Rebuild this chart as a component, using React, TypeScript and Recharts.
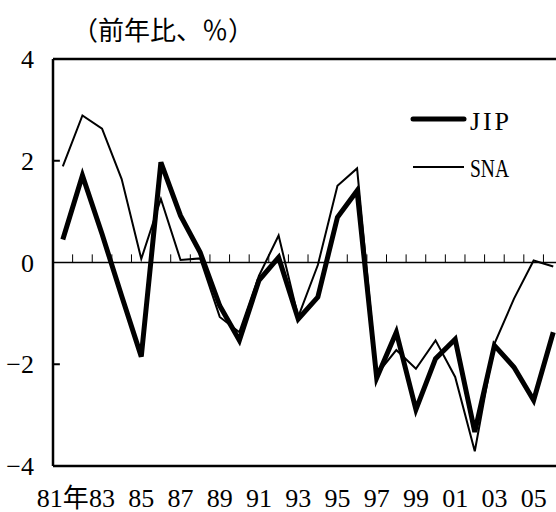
import { LineChart, Line, XAxis, YAxis, ReferenceLine, Legend } from 'recharts'

const years = [
  1981, 1982, 1983, 1984, 1985, 1986, 1987, 1988, 1989, 1990, 1991, 1992, 1993,
  1994, 1995, 1996, 1997, 1998, 1999, 2000, 2001, 2002, 2003, 2004, 2005, 2006,
]
const jipValues = [
  0.45, 1.71, 0.56, -0.66, -1.85, 1.97, 0.92, 0.2, -0.85, -1.53, -0.35, 0.1, -1.11,
  -0.68, 0.89, 1.41, -2.27, -1.37, -2.89, -1.89, -1.51, -3.33, -1.63, -2.06, -2.71, -1.37,
]
const snaValues = [
  1.89, 2.89, 2.63, 1.64, 0.07, 1.25, 0.05, 0.08, -1.07, -1.37, -0.26, 0.53, -1.07,
  -0.05, 1.51, 1.85, -2.2, -1.72, -2.09, -1.53, -2.25, -3.71, -1.6, -0.71, 0.04, -0.08,
]
const xTicks = [1981, 1983, 1985, 1987, 1989, 1991, 1993, 1995, 1997, 1999, 2001, 2003, 2005]
const yTicks = [-4, -2, 0, 2, 4]
const seriesNames = ['JIP', 'SNA']
const unitLabel = '（前年比、％）'

const data = years.map((year, i) => ({ year, jip: jipValues[i], sna: snaValues[i] }))

// small marks on the zero line, between the years
const yearBoundaries = years.slice(0, -1).map((y) => y + 0.5)

const textFont = 'Liberation Serif, Noto Sans CJK JP, serif'

const formatYear = (value: number) => {
  const short = String(value).slice(2)
  return value === years[0] ? `${short}年` : short
}

const formatValue = (value: number) => (value < 0 ? `−${Math.abs(value)}` : `${value}`)

const LegendBox = () => (
  <svg width={130} height={90} style={{ display: 'block' }}>
    <line x1={5} x2={56} y1={21} y2={21} stroke="#000" strokeWidth={5} strokeLinecap="round" />
    <text x={62} y={32} fontSize={26} fontFamily={textFont} textLength={39} lengthAdjust="spacing">
      {seriesNames[0]}
    </text>
    <line x1={5} x2={56} y1={69} y2={69} stroke="#000" strokeWidth={2} />
    <text x={62} y={79} fontSize={26} fontFamily={textFont} textLength={39} lengthAdjust="spacingAndGlyphs">
      {seriesNames[1]}
    </text>
  </svg>
)

export default function App() {
  return (
    <div style={{ position: 'relative', width: 556, height: 512, overflow: 'hidden', background: '#fff' }}>
      <style>{'body { margin: 0; overflow: hidden; }'}</style>
      <div
        style={{
          position: 'absolute',
          left: 72,
          top: 16,
          fontSize: 26,
          lineHeight: 1,
          fontFamily: 'Noto Sans CJK JP, sans-serif',
          color: '#000',
          whiteSpace: 'nowrap',
        }}
      >
        {unitLabel}
      </div>
      {/* plot runs past the right edge in the original, so the x domain stops short of 2006.5 */}
      <LineChart width={556} height={512} data={data} margin={{ top: 59, right: 0, left: 0, bottom: 0 }}>
        <XAxis
          dataKey="year"
          type="number"
          domain={[1980.5, 2006.14]}
          allowDataOverflow
          ticks={xTicks}
          interval={0}
          tickFormatter={formatYear}
          tickLine={false}
          tickSize={0}
          tickMargin={23}
          height={46}
          axisLine={{ stroke: '#000', strokeWidth: 2.5 }}
          tick={{ fontSize: 26, fill: '#000', fontFamily: textFont }}
        />
        <YAxis
          type="number"
          domain={[-4, 4]}
          ticks={yTicks}
          width={53}
          tickFormatter={formatValue}
          tickLine={false}
          tickSize={0}
          tickMargin={19}
          axisLine={{ stroke: '#000', strokeWidth: 2.5 }}
          tick={{ fontSize: 26, fill: '#000', fontFamily: textFont }}
        />
        <ReferenceLine y={4} stroke="#000" strokeWidth={2.5} />
        <ReferenceLine y={0} stroke="#000" strokeWidth={1.3} />
        {yearBoundaries.map((b) => (
          <ReferenceLine
            key={b}
            segment={[{ x: b, y: 0 }, { x: b, y: 0.16 }]}
            stroke="#000"
            strokeWidth={1}
          />
        ))}
        {[2, -2].map((v) => (
          <ReferenceLine
            key={v}
            segment={[{ x: 1980.5, y: v }, { x: 1980.85, y: v }]}
            stroke="#000"
            strokeWidth={2}
          />
        ))}
        <Line
          type="linear"
          dataKey="sna"
          name={seriesNames[1]}
          stroke="#000"
          strokeWidth={2}
          dot={false}
          isAnimationActive={false}
        />
        <Line
          type="linear"
          dataKey="jip"
          name={seriesNames[0]}
          stroke="#000"
          strokeWidth={5}
          dot={false}
          isAnimationActive={false}
        />
        <Legend
          layout="horizontal"
          verticalAlign="middle"
          align="center"
          content={() => <LegendBox />}
          wrapperStyle={{ position: 'absolute', left: 408, top: 98, width: 130 }}
        />
      </LineChart>
    </div>
  )
}
